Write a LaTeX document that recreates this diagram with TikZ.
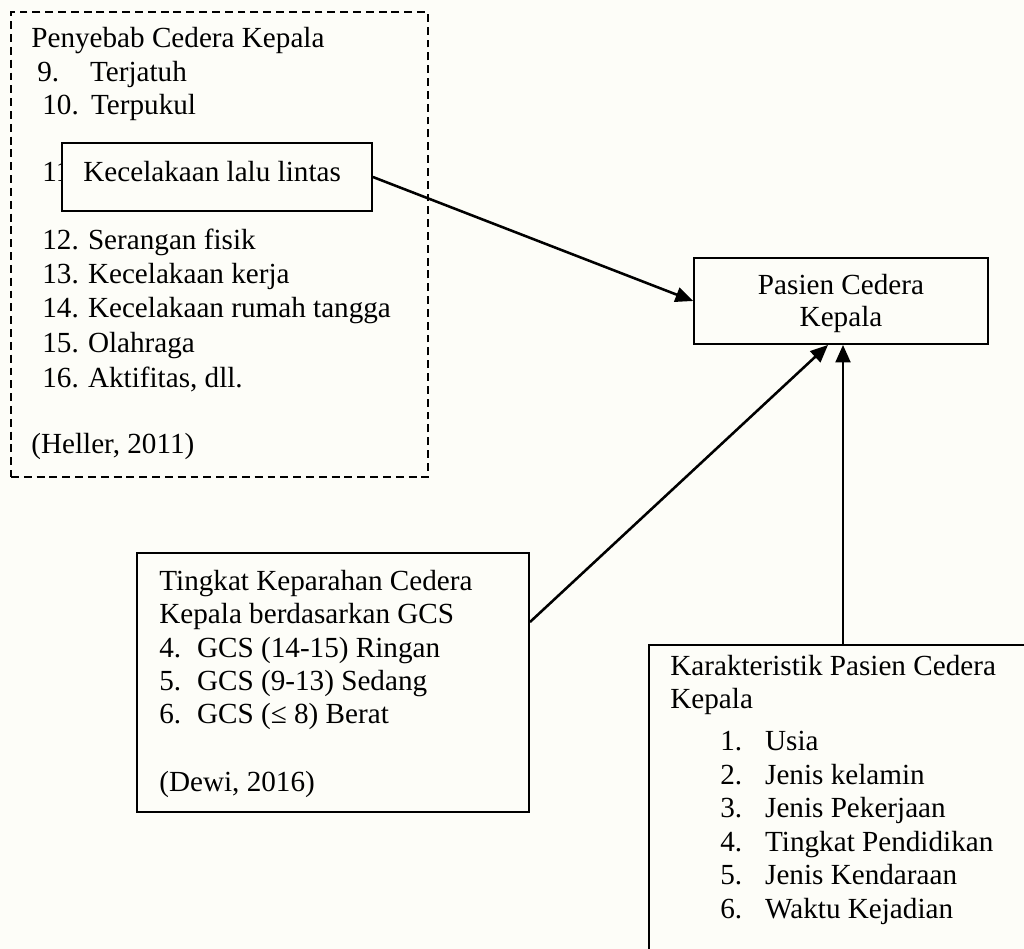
\documentclass[tikz,border=0pt]{standalone}
\usepackage{fontspec}
\setmainfont{Liberation Serif}
\usetikzlibrary{arrows.meta,fit,calc}
\definecolor{paper}{RGB}{253,253,248}
\newcommand\itm[2]{\makebox[#1][l]{#2}}
\begin{document}
\begin{tikzpicture}[x=0.02cm,y=-0.02cm,
  box/.style={draw, line width=1.05pt, fill=paper, inner sep=0pt},
  dbox/.style={draw, line width=1.05pt, dash pattern=on 4.5pt off 2.8pt, inner sep=0pt},
  txt/.style={inner sep=0pt, anchor=base west, font=\fontsize{16.6}{18.7}\selectfont},
  ctxt/.style={txt, anchor=base},
  arr/.style={line width=1.45pt, -{Triangle[length=10pt,width=8.5pt]}}]
\useasboundingbox (0,0) rectangle (1024,949);
\fill[paper] (0,0) rectangle (1024,949);
\clip (0,0) rectangle (1024,949);

% dashed box: causes
\node[dbox, fit={(11,12) (428,477)}] (pen) {};
\node[txt] (p0) at (31,48) {Penyebab Cedera Kepala};
\node[txt] (p1) at (37,82) {\itm{30pt}{9.}Terjatuh};
\node[txt] (p2) at (42,115) {\itm{27.8pt}{10.}Terpukul};
\node[txt] (p3) at (42,182) {11.};
\node[txt] (p4) at (42,250) {\itm{26pt}{12.}Serangan fisik};
\node[txt] (p5) at (42,284) {\itm{26pt}{13.}Kecelakaan kerja};
\node[txt] (p6) at (42,318) {\itm{26pt}{14.}Kecelakaan rumah tangga};
\node[txt] (p7) at (42,353) {\itm{26pt}{15.}Olahraga};
\node[txt] (p8) at (42,387) {\itm{26pt}{16.}Aktifitas, dll.};
\node[txt] (p9) at (31,453) {(Heller, 2011)};

% overlay box
\node[box, fit={(62,143) (372,211)}] (kec) {};
\node[txt] (kect) at (83,182) {Kecelakaan lalu lintas};

% target box
\node[box, fit={(694,258) (988,344)}] (pas) {};
\node[ctxt] (pas1) at (841,295) {Pasien Cedera};
\node[ctxt] (pas2) at (841,327) {Kepala};

% GCS box
\node[box, fit={(137,553) (529,812)}] (gcs) {};
\node[txt] (g0) at (159,590) {Tingkat Keparahan Cedera};
\node[txt] (g1) at (159,623) {Kepala berdasarkan GCS};
\node[txt] (g2) at (159,657) {\itm{21.5pt}{4.}GCS (14-15) Ringan};
\node[txt] (g3) at (159,690) {\itm{21.5pt}{5.}GCS (9-13) Sedang};
\node[txt] (g4) at (159,723) {\itm{21.5pt}{6.}GCS (≤ 8) Berat};
\node[txt] (g5) at (159,791) {(Dewi, 2016)};

% characteristics box (runs off the page)
\node[box, fit={(649,645) (1040,970)}] (kar) {};
\node[txt] (k0) at (670,675) {Karakteristik Pasien Cedera};
\node[txt] (k1) at (670,708) {Kepala};
\node[txt] (k2) at (720,750) {\itm{25.5pt}{1.}Usia};
\node[txt] (k3) at (720,784) {\itm{25.5pt}{2.}Jenis kelamin};
\node[txt] (k4) at (720,817) {\itm{25.5pt}{3.}Jenis Pekerjaan};
\node[txt] (k5) at (720,851) {\itm{25.5pt}{4.}Tingkat Pendidikan};
\node[txt] (k6) at (720,884) {\itm{25.5pt}{5.}Jenis Kendaraan};
\node[txt] (k7) at (720,918) {\itm{25.5pt}{6.}Waktu Kejadian};

% connectors
\draw[arr] (kec.east) -- (pas.west);
\draw[arr] ([yshift=-1.4cm]gcs.north east) -- ([xshift=-0.26cm]pas.south);
\draw[arr] ([xshift=-0.03cm]kar.north) -- ([xshift=-0.03cm]kar.north |- pas.south);
\end{tikzpicture}
\end{document}
